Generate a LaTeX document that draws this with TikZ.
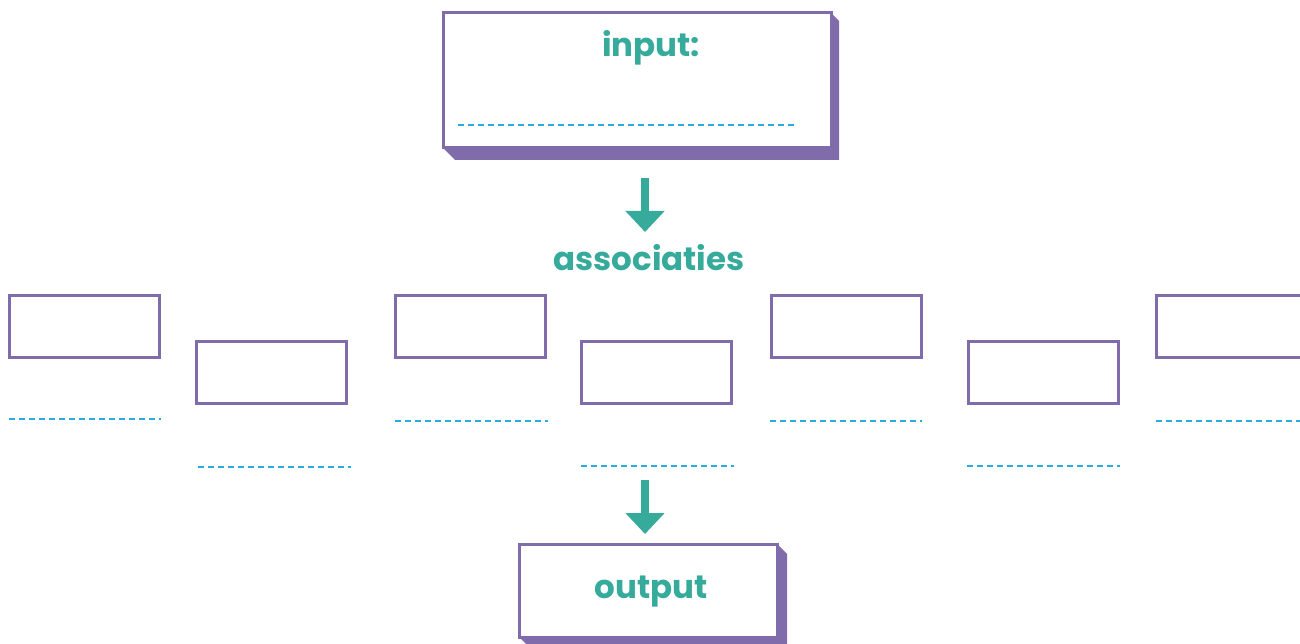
\documentclass[tikz,border=0pt]{standalone}
\usepackage{fontspec}
\setmainfont{Poppins}
\usetikzlibrary{arrows.meta}
\definecolor{purp}{RGB}{128,108,170}
\definecolor{teal2}{RGB}{54,170,155}
\definecolor{dblue}{RGB}{41,171,226}
\tikzset{
  frame/.style={draw=purp, line width=3pt, fill=white, inner sep=0pt},
  smallbox/.style={frame, minimum width=150pt, minimum height=62pt},
  shade3d/.style={fill=purp, draw=none},
  writeline/.style={draw=dblue, line width=2.2pt, dash pattern=on 6pt off 4pt},
  label2/.style={text=teal2, font=\bfseries\fontsize{32.5}{36}\selectfont, inner sep=0pt, anchor=base},
  bigarrow/.style={draw=teal2, line width=8pt, -{Triangle[width=38pt,length=21pt]}}
}
\begin{document}
\begin{tikzpicture}[x=1pt,y=-1pt]
\useasboundingbox (0,0) rectangle (1300,644);
\clip (0,0) rectangle (1300,644);
% top box
\fill[shade3d] (443,148) -- (455,160) -- (839,160) -- (839,21) -- (831,13) -- cycle;
\node[frame, minimum width=388pt, minimum height=135pt] (inbox) at (637,80.5) {};
\node[label2] (intext) at (651,57) {input:};
\coordinate (inl1) at (458,125);
\coordinate (inl2) at (797,125);
\draw[writeline] (inl1) -- (inl2);
% arrow 1
\coordinate (a1s) at (645,178);
\coordinate (a1e) at (645,232);
\draw[bigarrow] (a1s) -- (a1e);
\node[label2] (assoc) at (649,270) {associaties};
% small boxes
\node[smallbox] (b1) at (84.5,326) {};
\node[smallbox] (b2) at (271,372.5) {};
\node[smallbox] (b3) at (470,326) {};
\node[smallbox] (b4) at (656,372.5) {};
\node[smallbox] (b5) at (846,326) {};
\node[smallbox] (b6) at (1043,372.5) {};
\node[smallbox] (b7) at (1231,326) {};
% lines under boxes
\coordinate (l1a) at (9,419);   \coordinate (l1b) at (161,419);
\coordinate (l2a) at (198,467); \coordinate (l2b) at (351,467);
\coordinate (l3a) at (395,421); \coordinate (l3b) at (548,421);
\coordinate (l4a) at (581,466); \coordinate (l4b) at (734,466);
\coordinate (l5a) at (770,421); \coordinate (l5b) at (922,421);
\coordinate (l6a) at (967,466); \coordinate (l6b) at (1120,466);
\coordinate (l7a) at (1156,421); \coordinate (l7b) at (1300,421);
\draw[writeline] (l1a) -- (l1b);
\draw[writeline] (l2a) -- (l2b);
\draw[writeline] (l3a) -- (l3b);
\draw[writeline] (l4a) -- (l4b);
\draw[writeline] (l5a) -- (l5b);
\draw[writeline] (l6a) -- (l6b);
\draw[writeline] (l7a) -- (l7b);
% arrow 2
\coordinate (a2s) at (645,480);
\coordinate (a2e) at (645,534);
\draw[bigarrow] (a2s) -- (a2e);
% output box
\fill[shade3d] (519,637) -- (531,649) -- (787,649) -- (787,554) -- (777,544) -- cycle;
\node[frame, minimum width=258pt, minimum height=93pt] (outbox) at (648,590.5) {};
\node[label2] (outtext) at (651,598) {output};
\end{tikzpicture}
\end{document}
